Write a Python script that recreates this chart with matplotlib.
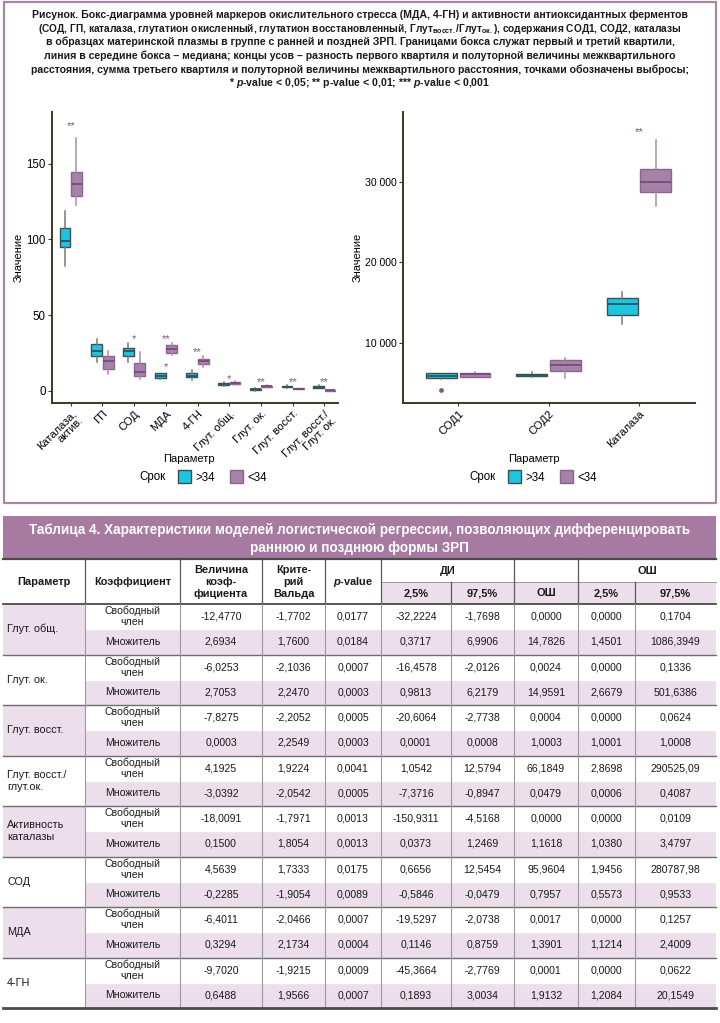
import matplotlib
matplotlib.use("Agg")
import matplotlib.pyplot as plt
from matplotlib import font_manager
from matplotlib.patches import Rectangle, Patch

names = {f.name for f in font_manager.fontManager.ttflist}
FONT = "Liberation Sans Narrow" if "Liberation Sans Narrow" in names else "Liberation Sans"
plt.rcParams["font.family"] = [FONT, "DejaVu Sans"]
plt.rcParams["mathtext.fontset"] = "custom"
plt.rcParams["mathtext.rm"] = FONT + ":bold"
plt.rcParams["mathtext.it"] = FONT + ":italic:bold"
plt.rcParams["mathtext.bf"] = FONT + ":bold"

# ---- left boxplot: five-number summaries (>34 = late, <34 = early)
left_names = ["Каталаза,\nактив.", "ГП", "СОД", "МДА", "4-ГН", "Глут. общ.",
              "Глут. ок.", "Глут. восст.", "Глут. восст./\nГлут. ок."]
late_lo = [82.6, 19.2, 19.2, 8.1, 7.5, 3.0, 0.2, 2.0, 2.0]
late_q1 = [95.0, 23.3, 23.3, 8.8, 9.3, 3.8, 0.6, 2.4, 2.2]
late_med = [99.0, 26.4, 26.4, 10.1, 10.1, 4.4, 1.0, 2.8, 2.7]
late_q3 = [107.5, 30.6, 28.6, 11.5, 11.5, 5.3, 1.5, 3.2, 3.2]
late_hi = [119.0, 33.9, 31.3, 11.9, 13.7, 6.0, 2.0, 3.6, 3.6]
early_lo = [122.9, 11.0, 7.9, 23.8, 15.9, 4.2, 2.2, 1.0, 0.05]
early_q1 = [128.6, 14.5, 9.5, 25.3, 17.6, 4.6, 2.6, 1.2, 0.1]
early_med = [136.8, 19.8, 12.6, 27.8, 19.8, 5.0, 3.0, 1.5, 0.3]
early_q3 = [144.5, 23.3, 18.1, 30.0, 21.1, 5.6, 3.4, 1.8, 0.5]
early_hi = [166.7, 26.4, 25.6, 31.3, 23.3, 6.2, 3.8, 2.1, 0.7]
sig_left_grp = [1, 3, 4, 4, 5, 6, 7, 8, 9]
sig_left_val = [174.4, 34.4, 15.9, 33.9, 25.8, 7.7, 6.0, 6.0, 6.0]
sig_left_txt = ["**", "*", "*", "**", "**", "*", "**", "**", "**"]

# ---- right boxplot
right_names = ["СОД1", "СОД2", "Каталаза"]
r_late_lo = [5556, 5761, 12387]
r_late_q1 = [5638, 5885, 13539]
r_late_med = [5926, 6049, 14815]
r_late_q3 = [6255, 6214, 15638]
r_late_hi = [6337, 6379, 16379]
r_late_out = [[4239], [], []]
r_early_lo = [5761, 5679, 26955]
r_early_q1 = [5844, 6502, 28683]
r_early_med = [6132, 7243, 29918]
r_early_q3 = [6337, 7942, 31605]
r_early_hi = [6461, 8107, 35185]
sig_right_grp = [3]
sig_right_val = [36132]
sig_right_txt = ["**"]

# ---- table
tab_params = ["Глут. общ.", "Глут. ок.", "Глут. восст.", "Глут. восст./\nглут.ок.",
              "Активность\nкаталазы", "СОД", "МДА", "4-ГН"]
intercept_rows = [
    ["-12,4770", "-1,7702", "0,0177", "-32,2224", "-1,7698", "0,0000", "0,0000", "0,1704"],
    ["-6,0253", "-2,1036", "0,0007", "-16,4578", "-2,0126", "0,0024", "0,0000", "0,1336"],
    ["-7,8275", "-2,2052", "0,0005", "-20,6064", "-2,7738", "0,0004", "0,0000", "0,0624"],
    ["4,1925", "1,9224", "0,0041", "1,0542", "12,5794", "66,1849", "2,8698", "290525,09"],
    ["-18,0091", "-1,7971", "0,0013", "-150,9311", "-4,5168", "0,0000", "0,0000", "0,0109"],
    ["4,5639", "1,7333", "0,0175", "0,6656", "12,5454", "95,9604", "1,9456", "280787,98"],
    ["-6,4011", "-2,0466", "0,0007", "-19,5297", "-2,0738", "0,0017", "0,0000", "0,1257"],
    ["-9,7020", "-1,9215", "0,0009", "-45,3664", "-2,7769", "0,0001", "0,0000", "0,0622"]]
slope_rows = [
    ["2,6934", "1,7600", "0,0184", "0,3717", "6,9906", "14,7826", "1,4501", "1086,3949"],
    ["2,7053", "2,2470", "0,0003", "0,9813", "6,2179", "14,9591", "2,6679", "501,6386"],
    ["0,0003", "2,2549", "0,0003", "0,0001", "0,0008", "1,0003", "1,0001", "1,0008"],
    ["-3,0392", "-2,0542", "0,0005", "-7,3716", "-0,8947", "0,0479", "0,0006", "0,4087"],
    ["0,1500", "1,8054", "0,0013", "0,0373", "1,2469", "1,1618", "1,0380", "3,4797"],
    ["-0,2285", "-1,9054", "0,0089", "-0,5846", "-0,0479", "0,7957", "0,5573", "0,9533"],
    ["0,3294", "2,1734", "0,0004", "0,1146", "0,8759", "1,3901", "1,1214", "2,4009"],
    ["0,6488", "1,9566", "0,0007", "0,1893", "3,0034", "1,9132", "1,2084", "20,1549"]]

CYAN = "#1cc6df"
CYAN_EDGE = "#3e4f52"
CYAN_MED = "#2c5660"
CYAN_WH = "#7d786e"
PURP = "#a682a9"
PURP_EDGE = "#8c6490"
PURP_MED = "#784a7c"
PURP_WH = "#a98bab"
STAR = "#7e5584"
AXC = "#3d3526"
PINK = "#ecdeeb"
BAND = "#a77aa1"

W, H = 720, 1023
fig = plt.figure(figsize=(W / 100, H / 100), dpi=100)

# page overlay in pixel coordinates (frame, caption, table)
pg = fig.add_axes([0, 0, 1, 1])
pg.set_xlim(0, W)
pg.set_ylim(H, 0)
pg.axis("off")

pg.add_patch(Rectangle((4, 2), 712, 501, fill=False, ec="#a886a5", lw=1.6))

caption = [
    "Рисунок. Бокс-диаграмма уровней маркеров окислительного стресса (МДА, 4-ГН) и активности антиоксидантных ферментов",
    r"(СОД, ГП, каталаза, глутатион окисленный, глутатион восстановленный, Глут$_{\mathrm{восст.}}$/Глут$_{\mathrm{ок.}}$), содержания СОД1, СОД2, каталазы",
    "в образцах материнской плазмы в группе с ранней и поздней ЗРП. Границами бокса служат первый и третий квартили,",
    "линия в середине бокса – медиана; концы усов – разность первого квартиля и полуторной величины межквартильного",
    "расстояния, сумма третьего квартиля и полуторной величины межквартильного расстояния, точками обозначены выбросы;",
    r"* $\mathit{p}$-value < 0,05; ** p-value < 0,01; *** $\mathit{p}$-value < 0,001",
]
for i, line in enumerate(caption):
    pg.text(360, 15 + i * 13.6, line, ha="center", va="center",
            fontsize=7.3 if i == 1 else 7.55, fontweight="bold", color="#1a1a1a")


def draw_boxes(ax, pos, lo, q1, med, q3, hi, fc, ec, mc, wc, fliers=None):
    stats = []
    for k in range(len(pos)):
        stats.append({"whislo": lo[k], "q1": q1[k], "med": med[k], "q3": q3[k],
                      "whishi": hi[k], "fliers": fliers[k] if fliers else []})
    ax.bxp(stats, positions=pos, widths=0.34, patch_artist=True, showcaps=False,
           boxprops=dict(facecolor=fc, edgecolor=ec, linewidth=1.0),
           medianprops=dict(color=mc, linewidth=1.3),
           whiskerprops=dict(color=wc, linewidth=1.1),
           flierprops=dict(marker="o", markersize=2.4, markerfacecolor=STAR,
                           markeredgecolor=STAR))


def style_axes(ax, ysize, xlab_x):
    for s in ["top", "right"]:
        ax.spines[s].set_visible(False)
    for s in ["left", "bottom"]:
        ax.spines[s].set_color(AXC)
        ax.spines[s].set_linewidth(1.4)
    ax.tick_params(axis="y", length=3, color=AXC, labelsize=ysize, pad=1.5)
    ax.tick_params(axis="x", length=2, color=AXC, labelsize=8, pad=2)
    ax.set_xlabel("Параметр", fontsize=8)
    ax.xaxis.set_label_coords(xlab_x, -0.175)
    ax.set_ylabel("Значение", fontsize=8, labelpad=2)


# ---- left plot
ax1 = fig.add_axes([52 / W, 1 - 403 / H, (338 - 52) / W, (403 - 112) / H])
xs = list(range(1, len(left_names) + 1))
draw_boxes(ax1, [x - 0.18 for x in xs], late_lo, late_q1, late_med, late_q3, late_hi,
           CYAN, CYAN_EDGE, CYAN_MED, CYAN_WH)
draw_boxes(ax1, [x + 0.18 for x in xs], early_lo, early_q1, early_med, early_q3, early_hi,
           PURP, PURP_EDGE, PURP_MED, PURP_WH)
for g, v, t in zip(sig_left_grp, sig_left_val, sig_left_txt):
    ax1.text(g, v, t, ha="center", va="center", fontsize=8, color=STAR)
ax1.set_xlim(0.41, 9.43)
ax1.set_ylim(-8, 184)
ax1.set_yticks([0, 50, 100, 150])
ax1.set_xticks(xs)
ax1.set_xticklabels(left_names, rotation=45, ha="right", rotation_mode="anchor",
                    linespacing=1.0)
style_axes(ax1, 8.3, 0.48)

# ---- right plot
ax2 = fig.add_axes([403 / W, 1 - 403 / H, (695 - 403) / W, (403 - 112) / H])
xr = list(range(1, len(right_names) + 1))
draw_boxes(ax2, [x - 0.186 for x in xr], r_late_lo, r_late_q1, r_late_med, r_late_q3,
           r_late_hi, CYAN, CYAN_EDGE, CYAN_MED, CYAN_WH, fliers=r_late_out)
draw_boxes(ax2, [x + 0.186 for x in xr], r_early_lo, r_early_q1, r_early_med, r_early_q3,
           r_early_hi, PURP, PURP_EDGE, PURP_MED, PURP_WH)
for g, v, t in zip(sig_right_grp, sig_right_val, sig_right_txt):
    ax2.text(g, v, t, ha="center", va="center", fontsize=8, color=STAR)
ax2.set_xlim(0.39, 3.62)
ax2.set_ylim(2593, 38600)
ax2.set_yticks([10000, 20000, 30000])
ax2.set_yticklabels(["10 000", "20 000", "30 000"])
ax2.set_xticks(xr)
ax2.set_xticklabels(right_names, rotation=45, ha="right", rotation_mode="anchor")
style_axes(ax2, 7.6, 0.45)

# ---- legends
handles = [Patch(facecolor=CYAN, edgecolor=CYAN_EDGE, label=">34"),
           Patch(facecolor=PURP, edgecolor=PURP_EDGE, label="<34")]
for cx, lx in [(152, 178), (482, 508)]:
    fig.text(cx / W, 1 - 477 / H, "Срок", ha="center", va="center", fontsize=8.3)
    fig.legend(handles=handles, ncol=2, loc="center left",
               bbox_to_anchor=(lx / W, 1 - 477 / H), frameon=False, fontsize=8.3,
               handlelength=1.1, handleheight=1.3, handletextpad=0.4,
               columnspacing=1.3, borderpad=0, borderaxespad=0)

# ---- table
X = [3, 85, 180, 262, 325, 381, 451, 514, 578, 635, 716]
centers = [(X[i] + X[i + 1]) / 2 for i in range(len(X) - 1)]
LINE = "#5a5a5a"
GRID = "#9a9a9a"

pg.add_patch(Rectangle((X[0], 516), X[-1] - X[0], 43, fc=BAND, ec="none"))
pg.text(360, 530, "Таблица 4. Характеристики моделей логистической регрессии, позволяющих дифференцировать",
        ha="center", va="center", color="white", fontsize=9.75, fontweight="bold")
pg.text(360, 548, "раннюю и позднюю формы ЗРП", ha="center", va="center", color="white",
        fontsize=9.75, fontweight="bold")

# header
hy0, hmid, hy1 = 559, 582, 604
pg.add_patch(Rectangle((X[5], hmid), X[-1] - X[5], hy1 - hmid, fc=PINK, ec="none"))
hdr = ["Параметр", "Коэффициент", "Величина\nкоэф-\nфициента", "Крите-\nрий\nВальда",
       r"$\mathit{p}$-value"]
for i, t in enumerate(hdr):
    pg.text(centers[i], (hy0 + hy1) / 2 + 0.5, t, ha="center", va="center", fontsize=7.9,
            fontweight="bold", linespacing=1.2, color="#1a1a1a")
pg.text((X[5] + X[7]) / 2, (hy0 + hmid) / 2, "ДИ", ha="center", va="center",
        fontsize=7.9, fontweight="bold", color="#1a1a1a")
pg.text((X[8] + X[10]) / 2, (hy0 + hmid) / 2, "ОШ", ha="center", va="center",
        fontsize=7.9, fontweight="bold", color="#1a1a1a")
for i, t in zip(range(5, 10), ["2,5%", "97,5%", "ОШ", "2,5%", "97,5%"]):
    pg.text(centers[i], (hmid + hy1) / 2, t, ha="center", va="center", fontsize=7.9,
            fontweight="bold", color="#1a1a1a")
pg.plot([X[0], X[-1]], [hy0, hy0], color="#4a4a4a", lw=1.6)
pg.plot([X[5], X[-1]], [hmid, hmid], color=GRID, lw=0.7)
for i in [1, 2, 3, 4, 5, 7, 8]:
    pg.plot([X[i], X[i]], [hy0, hy1], color=LINE, lw=0.9)
for i in [6, 9]:
    pg.plot([X[i], X[i]], [hmid, hy1], color=LINE, lw=0.9)
pg.plot([X[0], X[-1]], [hy1, hy1], color="#4a4a4a", lw=1.3)

# body
GH = 50.5
for g in range(len(tab_params)):
    top = hy1 + g * GH
    mid = top + GH / 2
    bot = top + GH
    if g % 2 == 0:
        pg.add_patch(Rectangle((X[0], top), X[1] - X[0], GH, fc=PINK, ec="none"))
    pg.add_patch(Rectangle((X[1], mid), X[-1] - X[1], GH / 2, fc=PINK, ec="none"))
    pg.text(X[0] + 4, mid, tab_params[g], ha="left", va="center", fontsize=7.8,
            linespacing=1.2, color="#1a1a1a")
    pg.text(centers[1], (top + mid) / 2, "Свободный\nчлен", ha="center", va="center",
            fontsize=7.6, linespacing=1.1, color="#1a1a1a")
    pg.text(centers[1], (mid + bot) / 2, "Множитель", ha="center", va="center",
            fontsize=7.6, color="#1a1a1a")
    for j in range(8):
        pg.text(centers[j + 2], (top + mid) / 2, intercept_rows[g][j], ha="center",
                va="center", fontsize=7.6, color="#1a1a1a")
        pg.text(centers[j + 2], (mid + bot) / 2, slope_rows[g][j], ha="center",
                va="center", fontsize=7.6, color="#1a1a1a")
    pg.plot([X[1], X[-1]], [mid, mid], color="white", lw=1.0)
    if g < len(tab_params) - 1:
        pg.plot([X[0], X[-1]], [bot, bot], color="#6e6e6e", lw=1.0)
body_bot = hy1 + len(tab_params) * GH
for i in range(1, 10):
    pg.plot([X[i], X[i]], [hy1, body_bot], color=GRID, lw=0.8)
pg.plot([X[0], X[-1]], [body_bot, body_bot], color="#4a4a4a", lw=2.0)

fig.savefig("out.png", dpi=100)
